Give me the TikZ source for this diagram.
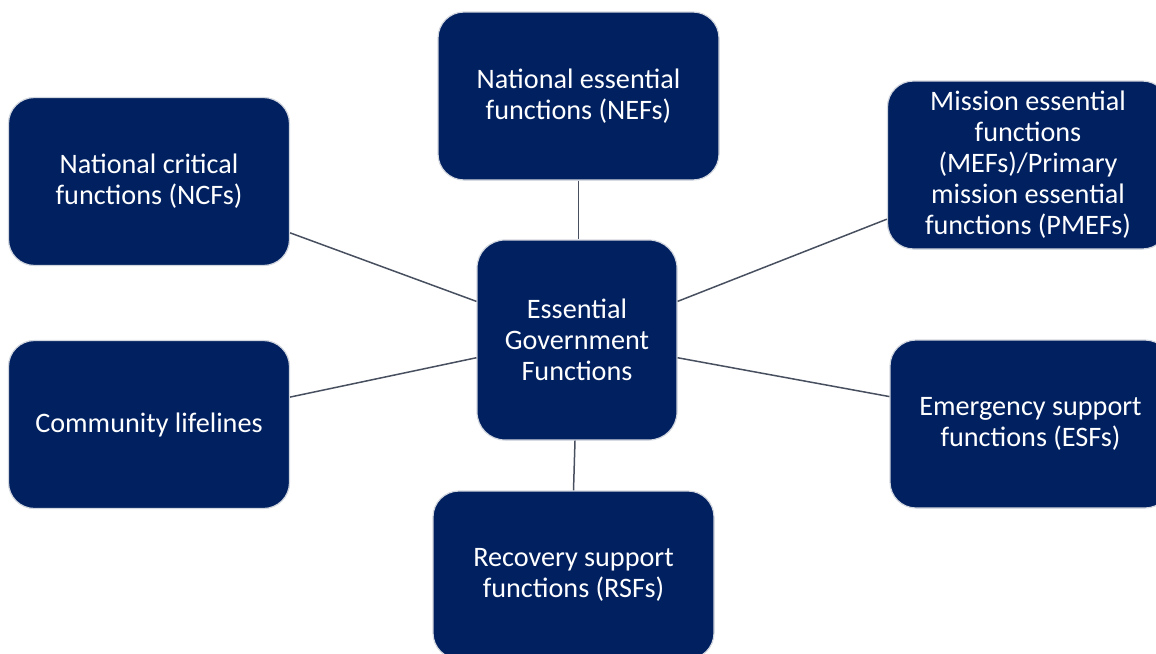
\documentclass[tikz,border=0pt]{standalone}
\usepackage{fontspec}
\setmainfont{Carlito}
\definecolor{navy}{RGB}{0,32,96}
\definecolor{rim}{RGB}{210,214,222}
\definecolor{wire}{RGB}{72,80,96}
\begin{document}
\begin{tikzpicture}[x=1pt,y=-1pt,
  fnbox/.style={draw=rim, line width=1.2pt, fill=navy, text=white,
    rounded corners=26pt, align=center, inner sep=0pt,
    minimum width=281pt, minimum height=168pt,
    font=\fontsize{28.2}{31}\selectfont},
  hub/.style={fnbox, minimum width=200pt, minimum height=200pt, rounded corners=28pt},
  link/.style={draw=wire, line width=1.5pt}]
\useasboundingbox (0,0) rectangle (1156,653);

% central hub
\node[hub] (egf) at (577,340) {Essential\\Government\\Functions};

% surrounding function families
\node[fnbox] (nef) at (578.5,96) {National essential\\functions (NEFs)};
\node[fnbox] (ncf) at (149,181.5) {National critical\\functions (NCFs)};
\node[fnbox] (mef) at (1028,165) {Mission essential\\functions\\(MEFs)/Primary\\mission essential\\functions (PMEFs)};
\node[fnbox] (cl)  at (149,424.5) {Community lifelines};
\node[fnbox] (esf) at (1030.5,424) {Emergency support\\functions (ESFs)};
\node[fnbox] (rsf) at (573.5,575) {Recovery support\\functions (RSFs)};

% spokes
\draw[link] (nef.south) -- (nef.south |- egf.north);
\draw[link] (ncf.-20) -- (egf.159);
\draw[link] (cl.11) -- (egf.190);
\draw[link] (mef.201) -- (egf.21);
\draw[link] (esf.169) -- (egf.-10);
\draw[link] (egf.south -| rsf.north) ++(1.5,0) -- (rsf.north);
\end{tikzpicture}
\end{document}
